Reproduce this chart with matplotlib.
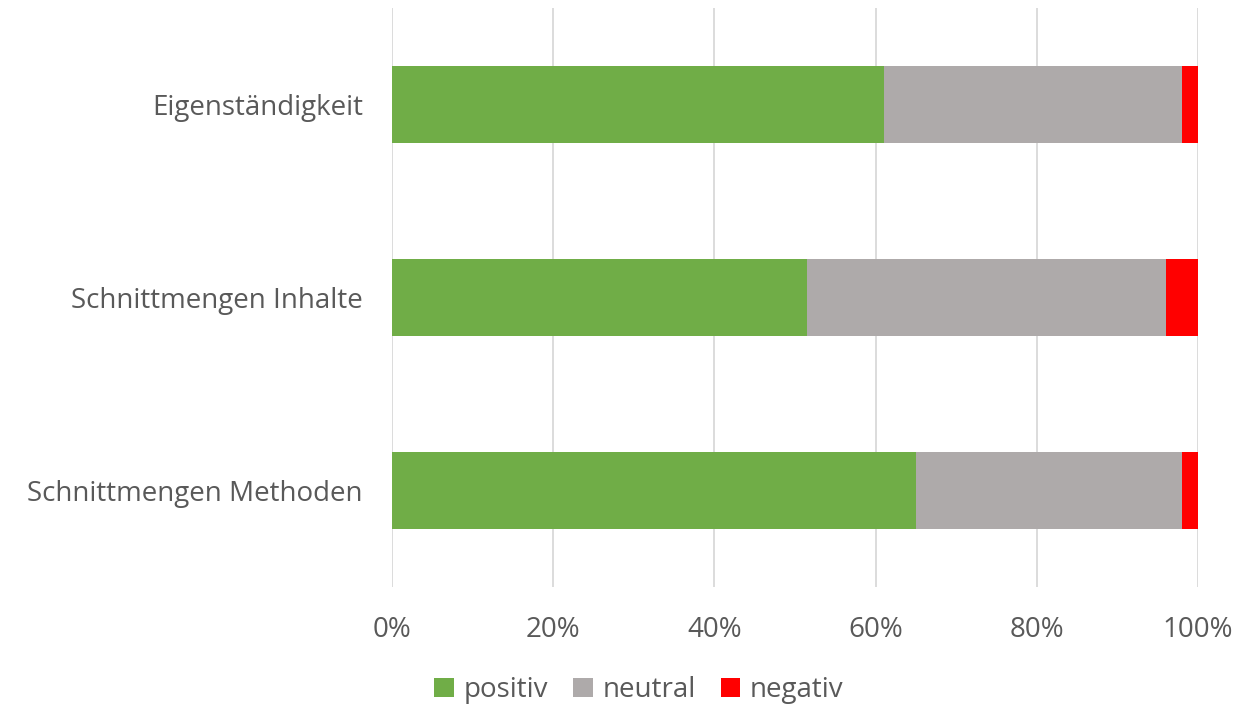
import matplotlib
matplotlib.use("Agg")
import matplotlib.pyplot as plt
import numpy as np

categories = ["Eigenständigkeit", "Schnittmengen Inhalte", "Schnittmengen Methoden"]
series_names = ["positiv", "neutral", "negativ"]
positiv = [61.0, 51.5, 65.0]
neutral = [37.0, 44.5, 33.0]
negativ = [2.0, 4.0, 2.0]
xticks = [0, 20, 40, 60, 80, 100]
xtick_labels = ["0%", "20%", "40%", "60%", "80%", "100%"]

colors = ["#70AD47", "#AEAAAA", "#FF0000"]
text_color = "#595959"
plt.rcParams['font.family'] = ['Open Sans', 'DejaVu Sans']

fig = plt.figure(figsize=(12.42, 7.08), dpi=100)
ax = fig.add_axes([392/1242, 1-587/708, (1198-392)/1242, (587-8)/708])

y = np.arange(len(categories))
left = np.zeros(len(categories))
for name, vals, c in zip(series_names, [positiv, neutral, negativ], colors):
    ax.barh(y, vals, left=left, height=0.4, color=c, label=name, zorder=3)
    left = left + np.array(vals)

ax.set_ylim(len(categories)-0.5, -0.5)
ax.set_xlim(0, 100)
ax.set_yticks(y)
ax.set_yticklabels(categories, fontsize=20, color=text_color)
ax.set_xticks(xticks)
ax.set_xticklabels(xtick_labels, fontsize=20, color=text_color)
ax.tick_params(axis='both', length=0)
ax.tick_params(axis='y', pad=21)
ax.tick_params(axis='x', pad=21)
ax.grid(axis='x', color='#D9D9D9', linewidth=1.3, zorder=0)
for s in ax.spines.values():
    s.set_visible(False)

leg = fig.legend(loc='center', bbox_to_anchor=(639/1242, 1-690/708), ncol=3, frameon=False,
                 fontsize=20, handlelength=0.7, handleheight=0.7, handletextpad=0.35,
                 columnspacing=0.9, labelcolor=text_color)

fig.savefig("out.png", dpi=100)
